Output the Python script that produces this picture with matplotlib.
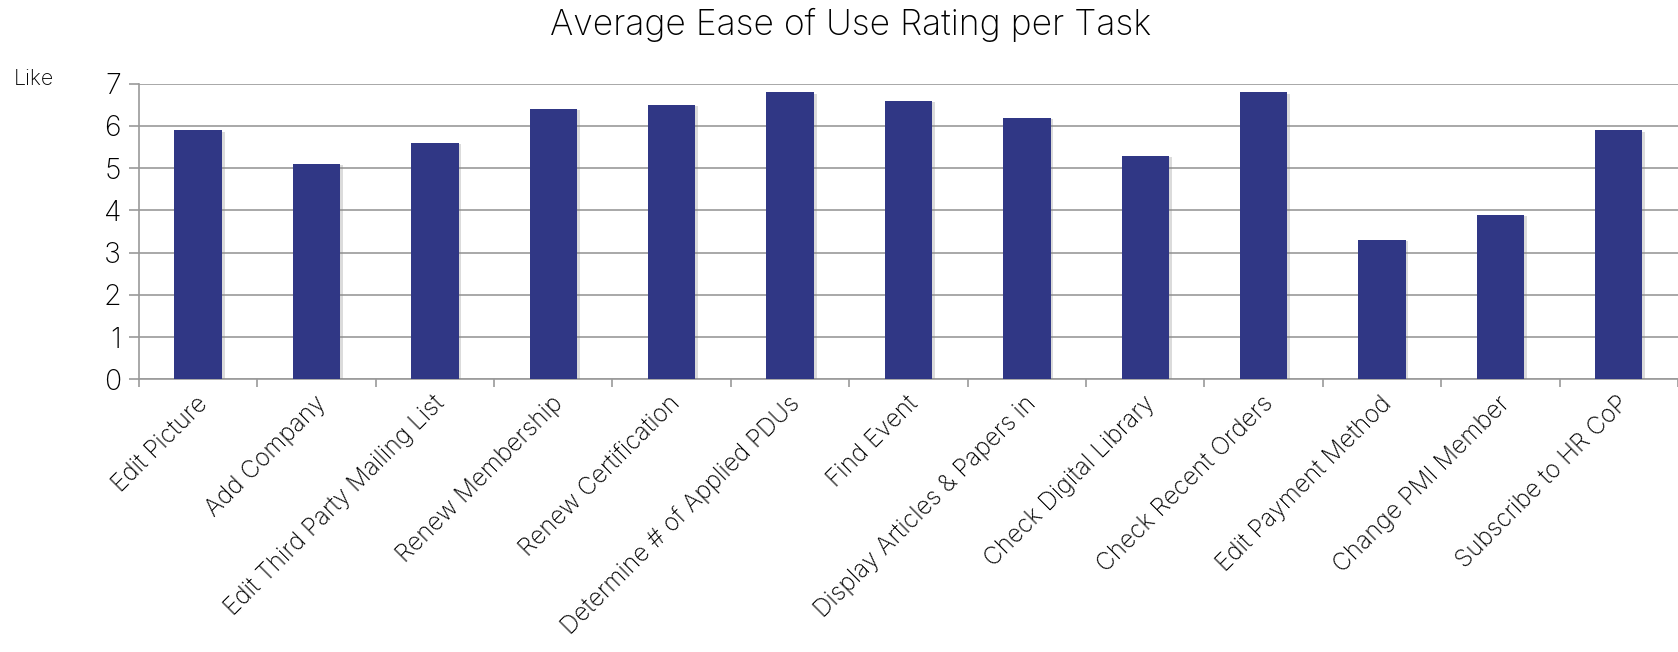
import matplotlib
matplotlib.use('Agg')
import matplotlib.pyplot as plt
import matplotlib.patheffects as pe
import numpy as np

tareas = ['Edit Picture', 'Add Company', 'Edit Third Party Mailing List',
          'Renew Membership', 'Renew Certification',
          'Determine # of Applied PDUs', 'Find Event',
          'Display Articles & Papers in', 'Check Digital Library',
          'Check Recent Orders', 'Edit Payment Method',
          'Change PMI Member', 'Subscribe to HR CoP']
puntajes = [5.9, 5.1, 5.6, 6.4, 6.5, 6.8, 6.6, 6.2, 5.3, 6.8, 3.3, 3.9, 5.9]
ticks_y = [0, 1, 2, 3, 4, 5, 6, 7]

plt.rcParams['font.family'] = ['Inter', 'DejaVu Sans']
plt.rcParams['font.weight'] = 'light'

gris = '#9a9a9a'

fig = plt.figure(figsize=(16.78, 6.52), dpi=100)
ax = fig.add_axes([0.0828, 0.4182, 0.9172, 0.4534])

x = np.arange(len(tareas))
barras = ax.bar(x, puntajes, width=0.40, color='#303785', zorder=3)
for b in barras:
    b.set_path_effects([pe.SimplePatchShadow(offset=(2, -1), shadow_rgbFace='#888888', alpha=0.3),
                        pe.Normal()])

ax.set_xlim(-0.5, len(tareas) - 0.5)
ax.set_ylim(0, 7)
ax.set_yticks(ticks_y)
ax.set_yticklabels([str(t) for t in ticks_y], fontsize=20.5, fontweight='light')
ax.yaxis.grid(True, color=gris, linewidth=1.2, zorder=0)

ax.set_xticks(x + 0.05)
ax.set_xticklabels(tareas, rotation=45, ha='right', va='center',
                   rotation_mode='anchor', fontsize=17.5, fontweight='light')
ax.set_xticks(np.arange(-0.5, len(tareas), 1.0), minor=True)
ax.tick_params(axis='x', which='major', length=0, pad=15)
ax.tick_params(axis='x', which='minor', length=6, color=gris, width=1.2, direction='out')
ax.tick_params(axis='y', length=7, color=gris, width=1.2, direction='out', pad=6)

for lado in ['top', 'right']:
    ax.spines[lado].set_visible(False)
for lado in ['left', 'bottom']:
    ax.spines[lado].set_color(gris)
    ax.spines[lado].set_linewidth(1.2)

fig.text(0.0083, 0.879, 'Like', fontsize=15.5, fontweight='light', va='center', ha='left')
fig.suptitle('Average Ease of Use Rating per Task', x=0.507, y=0.962, va='center',
             fontsize=25.5, fontweight='light')

fig.savefig('out.png', dpi=100)
